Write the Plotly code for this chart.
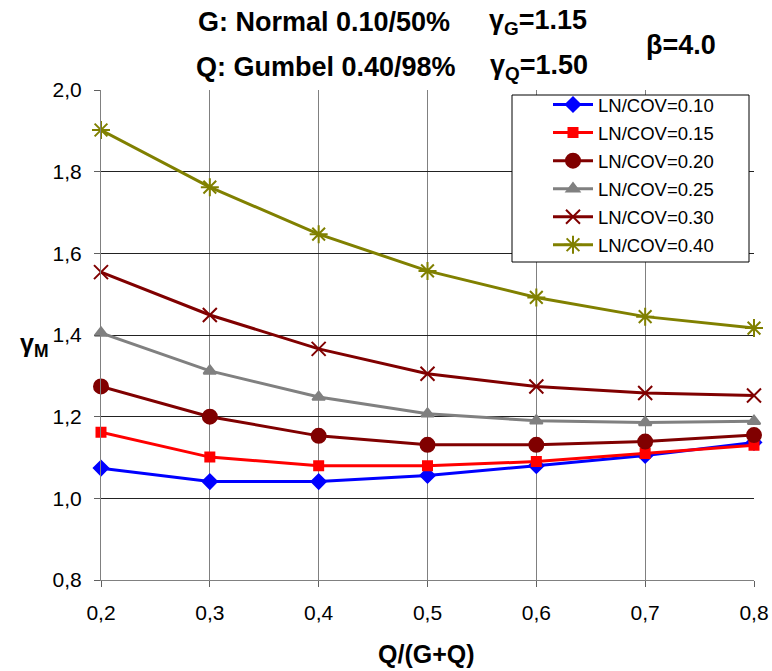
import plotly.graph_objects as go

x_vals = [0.2, 0.3, 0.4, 0.5, 0.6, 0.7, 0.8]
cov010 = [1.074, 1.041, 1.041, 1.056, 1.080, 1.105, 1.137]
cov015 = [1.162, 1.101, 1.080, 1.080, 1.090, 1.110, 1.130]
cov020 = [1.274, 1.200, 1.153, 1.131, 1.131, 1.139, 1.155]
cov025 = [1.405, 1.312, 1.248, 1.207, 1.190, 1.186, 1.189]
cov030 = [1.554, 1.449, 1.366, 1.305, 1.274, 1.258, 1.252]
cov040 = [1.902, 1.762, 1.647, 1.557, 1.492, 1.445, 1.417]
names = ["LN/COV=0.10", "LN/COV=0.15", "LN/COV=0.20", "LN/COV=0.25", "LN/COV=0.30", "LN/COV=0.40"]
y_ticks = [0.8, 1.0, 1.2, 1.4, 1.6, 1.8, 2.0]

series = [cov010, cov015, cov020, cov025, cov030, cov040]
colors = ["#0000FF", "#FF0000", "#800000", "#808080", "#800000", "#808000"]
symbols = ["diamond", "square", "circle", "triangle-up", "x-thin-open", "asterisk-open"]
sizes = [11, 9, 14, 11, 14, 15]

fig = go.Figure()
for i, (ys, nm, c, s, sz) in enumerate(zip(series, names, colors, symbols, sizes)):
    fig.add_trace(go.Scatter(
        x=x_vals, y=ys, name=nm, mode="lines+markers", legendgroup="g%d" % i,
        line=dict(color=c, width=3),
        marker=dict(symbol=s, size=sz, color=c, line=dict(color=c, width=2)),
        cliponaxis=False,
    ))

W, H = 772, 671
PL, PR, PT, PB = 101, 754, 90, 580          # plot area in page pixels
pw, ph = PR - PL, PB - PT

def px(xp):
    return (xp - PL) / pw

def py(yp):
    return (PB - yp) / ph

font = "Liberation Sans, Arial, sans-serif"
ann = []
def add(text, xp, yp, size=27, anchor="left"):
    ann.append(dict(text=text, x=px(xp), y=py(yp), xref="paper", yref="paper",
                    xanchor=anchor, yanchor="middle", showarrow=False,
                    font=dict(family=font, size=size, color="black")))

add("<b>G: Normal 0.10/50%</b>", 196, 22)
add("<b>γ<sub>G</sub>=1.15</b>", 487, 22)
add("<b>Q: Gumbel 0.40/98%</b>", 194, 67)
add("<b>γ<sub>Q</sub>=1.50</b>", 488, 67)
add("<b>β=4.0</b>", 644, 45)
add("<b>γ<sub>M</sub></b>", 34, 345, size=25, anchor="center")
add("<b>Q/(G+Q)</b>", 426, 654, size=25, anchor="center")

fig.update_layout(
    width=W, height=H,
    margin=dict(l=PL, r=W - PR, t=PT, b=H - PB, pad=0, autoexpand=False),
    paper_bgcolor="white", plot_bgcolor="white",
    separators=",.",
    font=dict(family=font, size=21, color="black"),
    annotations=ann,
    shapes=[dict(type="rect", xref="paper", yref="paper",
                 x0=px(512), x1=px(749), y0=py(262), y1=py(95),
                 fillcolor="white", line=dict(color="black", width=1), layer="above")],
    legend=dict(
        x=px(548), y=py(86), xanchor="left", yanchor="top",
        bgcolor="rgba(0,0,0,0)", borderwidth=0,
        font=dict(family=font, size=18.5, color="black"),
        itemwidth=40, tracegroupgap=1,
    ),
    xaxis=dict(
        range=[0.2, 0.8], tickvals=x_vals, tickformat=".1f",
        showgrid=True, gridcolor="#808080", gridwidth=1,
        showline=True, linecolor="#808080", linewidth=1,
        ticks="outside", ticklen=6, tickcolor="#606060",
        ticklabelstandoff=8, zeroline=False,
    ),
    yaxis=dict(
        range=[0.8, 2.0], tickvals=y_ticks, tickformat=".1f",
        showgrid=True, gridcolor="#222222", gridwidth=1,
        showline=True, linecolor="#808080", linewidth=1,
        ticks="outside", ticklen=6, tickcolor="#606060",
        ticklabelstandoff=8, zeroline=False,
    ),
)

fig.write_html("out.html", config={"displayModeBar": False},
               post_script="document.body.style.margin='0px';")
